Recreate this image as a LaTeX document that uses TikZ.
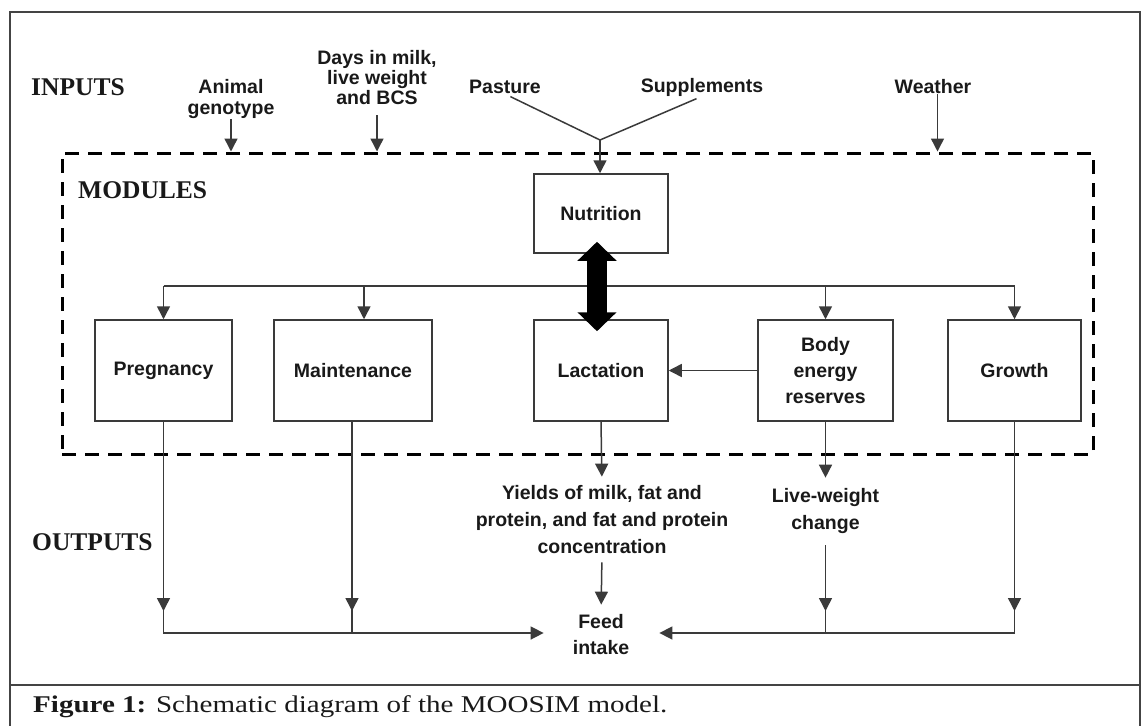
\documentclass[tikz,border=0pt]{standalone}
\usepackage{fontspec}
\setmainfont{Liberation Serif}
\newfontfamily\labfont{Liberation Sans}
\newfontfamily\capfont[FakeStretch=1.21]{Liberation Serif}
\usetikzlibrary{arrows.meta}
\definecolor{linec}{HTML}{3A3A3A}
\definecolor{framec}{HTML}{444444}
\begin{document}
\begin{tikzpicture}[x=1pt,y=-1pt,
  lab/.style={font=\labfont\bfseries\fontsize{19.5}{26}\selectfont, align=center, inner sep=0pt, text=black!90},
  head/.style={font=\bfseries\fontsize{25.5}{30}\selectfont, inner sep=0pt, anchor=west, text=black!90},
  box/.style={lab, draw=linec, line width=1.5pt},
  conn/.style={draw=linec, line width=1.5pt},
  arr/.style={conn, -{Triangle[width=13pt,length=13pt]}},
  big/.style={draw=black, line width=20pt, {Triangle[width=38pt,length=19pt]}-{Triangle[width=38pt,length=19pt]}},
]
\useasboundingbox (0,0) rectangle (1145,725);
% frame
\draw[framec, line width=2.5pt] (10,727) -- (10,12) -- (1140,12) -- (1140,727);
\draw[framec, line width=2.5pt] (10,685) -- (1140,685);
\node[anchor=west, inner sep=0pt, font=\capfont\fontsize{24}{28}\selectfont, text=black!90] (cap) at (33,707) {\textbf{Figure 1:} Schematic diagram of the MOOSIM model.};

% dashed modules box
\node[draw=black, line width=3pt, dash pattern=on 14pt off 9pt, minimum width=1031pt, minimum height=301pt, inner sep=0pt] (mod) at (577.5,303.5) {};

% headings
\node[head] (inputs) at (31,87) {INPUTS};
\node[head] (modules) at (78,190) {MODULES};
\node[head] (outputs) at (32,542) {OUTPUTS};

% inputs
\node[lab, font=\labfont\bfseries\fontsize{19.5}{21}\selectfont] (animal) at (231,99) {Animal\\genotype};
\node[lab, font=\labfont\bfseries\fontsize{19.5}{20}\selectfont] (days) at (377,78) {Days in milk,\\live weight\\and BCS};
\node[lab] (pasture) at (505,87) {Pasture};
\node[lab] (supp) at (702,87) {Supplements};
\node[lab] (weather) at (933,87) {Weather};
\coordinate (j) at (600,140);

% boxes
\node[box, minimum width=134pt, minimum height=79pt] (nutr) at (601,213.5) {Nutrition};
\node[box, minimum width=137pt, minimum height=101pt] (preg) at (163.5,370.5) {Pregnancy};
\node[box, minimum width=158pt, minimum height=101pt] (maint) at (353,370.5) {Maintenance};
\node[box, minimum width=134pt, minimum height=101pt] (lact) at (601,370.5) {Lactation};
\node[box, minimum width=135pt, minimum height=101pt] (body) at (825.5,370.5) {Body\\energy\\reserves};
\node[box, minimum width=133pt, minimum height=101pt] (growth) at (1014.5,370.5) {Growth};

% outputs
\node[lab, font=\labfont\bfseries\fontsize{19.5}{27}\selectfont] (yields) at (602,520) {Yields of milk, fat and\\protein, and fat and protein\\concentration};
\node[lab, font=\labfont\bfseries\fontsize{19.5}{27}\selectfont] (lw) at (825.5,510.5) {Live-weight\\change};
\node[lab] (feed) at (601,635) {Feed\\intake};

% input connectors
\draw[arr] (animal.south) -- (animal.south |- mod.north);
\draw[arr, shorten <=10pt] (days.south) -- (days.south |- mod.north);
\draw[arr] ([xshift=4.5pt]weather.south) -- ([xshift=4.5pt]weather.south |- mod.north);
\draw[conn, shorten <=6pt] (pasture.south) -- (j);
\draw[conn, shorten <=6pt] (supp.south) -- (j);
\draw[arr] (j) -- (nutr.north -| j);

% distribution
\coordinate (d1) at (163.5,286);
\coordinate (d2) at (364,286);
\coordinate (d3) at (825.5,286);
\coordinate (d4) at (1014.5,286);
\draw[conn] (d1) -- (d4);
\draw[arr] (d1) -- (d1 |- preg.north);
\draw[arr] (d2) -- (d2 |- maint.north);
\draw[arr] (d3) -- (d3 |- body.north);
\draw[arr] (d4) -- (d4 |- growth.north);

% nutrition <-> lactation
\draw[big, shorten <=-12pt, shorten >=-12pt] ([xshift=-4pt]nutr.south) -- ([xshift=-4pt]lact.north);

% body -> lactation
\draw[arr] (body.west) -- (lact.east);

% lactation / body outputs
\draw[arr, shorten >=9pt] (lact.south) -- (yields.north);
\draw[arr, shorten <=8pt, shorten >=10pt] (yields.south) -- (feed.north);
\draw[arr, shorten >=10pt] (body.south) -- (lw.north);

% bottom collectors
\coordinate (pa) at (163.5,633);
\coordinate (ma) at (352,633);
\coordinate (ba) at (825.5,633);
\coordinate (ga) at (1014.5,633);
\draw[conn] (preg.south) -- (pa) -- (ma);
\draw[conn] (maint.south -| ma) -- (ma);
\draw[arr, shorten >=29pt] (ma) -- (feed.west |- ma);
\draw[arr] (preg.south) -- ([yshift=22pt]pa);
\draw[arr] (maint.south -| ma) -- ([yshift=22pt]ma);
\draw[conn, shorten <=12pt] (lw.south) -- (ba);
\draw[arr, shorten <=12pt] (lw.south) -- ([yshift=22pt]ba);
\draw[conn] (growth.south) -- (ga) -- (ba);
\draw[arr] (growth.south) -- ([yshift=22pt]ga);
\draw[arr, shorten >=30pt] (ba) -- (feed.east |- ba);
\end{tikzpicture}
\end{document}
